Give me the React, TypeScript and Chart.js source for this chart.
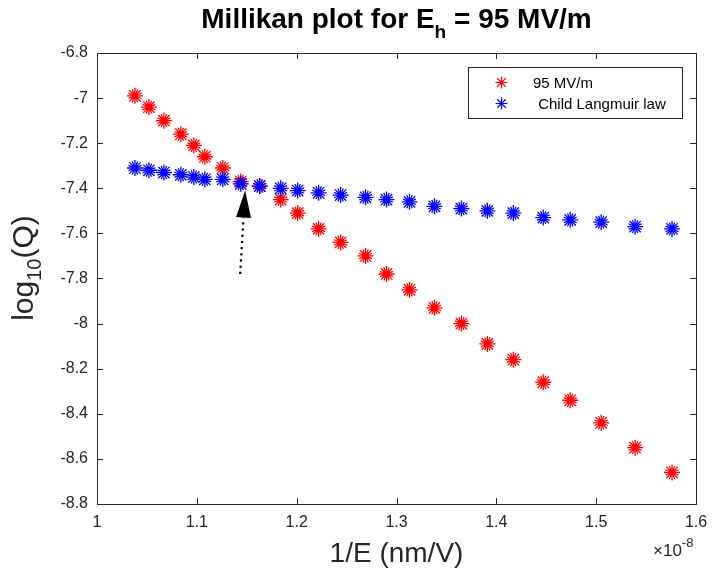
import React, { useEffect, useRef } from "react";
import { Chart, registerables } from "chart.js";

Chart.register(...registerables);

// 1/E values (in units of 1e-8 nm/V)
const inverseField = [1.038, 1.052, 1.067, 1.084, 1.097, 1.108, 1.126, 1.144, 1.163, 1.184, 1.201, 1.222, 1.244, 1.269, 1.29, 1.313, 1.338, 1.365, 1.391, 1.417, 1.447, 1.474, 1.505, 1.539, 1.576];
const logQ95 = [-6.99, -7.04, -7.1, -7.16, -7.21, -7.26, -7.31, -7.37, -7.39, -7.45, -7.51, -7.58, -7.64, -7.7, -7.78, -7.85, -7.93, -8.0, -8.09, -8.16, -8.26, -8.34, -8.44, -8.55, -8.66];
const logQChild = [-7.31, -7.32, -7.33, -7.34, -7.35, -7.36, -7.36, -7.38, -7.39, -7.4, -7.41, -7.42, -7.43, -7.44, -7.45, -7.46, -7.48, -7.49, -7.5, -7.51, -7.53, -7.54, -7.55, -7.57, -7.58];
const seriesNames = ["95 MV/m", " Child Langmuir law"];
const xTickValues = [1, 1.1, 1.2, 1.3, 1.4, 1.5, 1.6];
const yTickValues = [-8.8, -8.6, -8.4, -8.2, -8, -7.8, -7.6, -7.4, -7.2, -7, -6.8];
const arrowFrom = { x: 1.1434, y: -7.78 };
const arrowTo = { x: 1.1484, y: -7.41 };

const FONT = '"Liberation Sans", Arial, Helvetica, sans-serif';
const RED = "#ff0000";
const BLUE = "#0000ff";
const AXIS = "#262626";

function toPoints(ys: number[]) {
  return inverseField.map((x, i) => ({ x, y: ys[i] }));
}

function starLayers(label: string, ys: number[], color: string, order: number) {
  const layers = [
    { style: "star", r: 8, rot: 0, w: 1.3 },
    { style: "star", r: 7, rot: 22.5, w: 1.3 },
    { style: "rect", r: 4.5, rot: 0, w: 0 },
  ];
  return layers.map((l, k) => ({
    label: k === 0 ? label : label + "_" + k,
    data: toPoints(ys),
    showLine: false,
    pointStyle: l.style,
    pointRadius: l.r,
    pointRotation: l.rot,
    pointBorderWidth: l.w,
    borderColor: color,
    backgroundColor: color,
    pointBackgroundColor: color,
    pointBorderColor: color,
    order,
  }));
}

function drawStar(ctx: CanvasRenderingContext2D, x: number, y: number, r: number, color: string) {
  ctx.save();
  ctx.strokeStyle = color;
  ctx.lineWidth = 1.2;
  ctx.beginPath();
  for (let k = 0; k < 4; k++) {
    const a = (k * Math.PI) / 4;
    ctx.moveTo(x - r * Math.cos(a), y - r * Math.sin(a));
    ctx.lineTo(x + r * Math.cos(a), y + r * Math.sin(a));
  }
  ctx.stroke();
  ctx.restore();
}

const decor = {
  id: "matlabDecor",
  afterDatasetsDraw(chart: any) {
    const ctx: CanvasRenderingContext2D = chart.ctx;
    const xs = chart.scales.x;
    const ys = chart.scales.y;
    const x0 = xs.getPixelForValue(arrowFrom.x);
    const y0 = ys.getPixelForValue(arrowFrom.y);
    const x1 = xs.getPixelForValue(arrowTo.x);
    const y1 = ys.getPixelForValue(arrowTo.y);
    const ang = Math.atan2(y1 - y0, x1 - x0);
    const headLen = 27;
    const headHalf = 7.5;
    const bx = x1 - headLen * Math.cos(ang);
    const by = y1 - headLen * Math.sin(ang);
    ctx.save();
    ctx.strokeStyle = "#000";
    ctx.lineWidth = 2.2;
    ctx.setLineDash([2.2, 4]);
    ctx.beginPath();
    ctx.moveTo(x0, y0);
    ctx.lineTo(bx, by);
    ctx.stroke();
    ctx.setLineDash([]);
    ctx.fillStyle = "#000";
    ctx.beginPath();
    ctx.moveTo(x1, y1);
    ctx.lineTo(bx + headHalf * Math.sin(ang), by - headHalf * Math.cos(ang));
    ctx.lineTo(bx - headHalf * Math.sin(ang), by + headHalf * Math.cos(ang));
    ctx.closePath();
    ctx.fill();
    ctx.restore();
  },
  afterDraw(chart: any) {
    const ctx: CanvasRenderingContext2D = chart.ctx;
    const a = chart.chartArea;
    const xs = chart.scales.x;
    const ys = chart.scales.y;
    ctx.save();
    // box
    ctx.strokeStyle = AXIS;
    ctx.lineWidth = 1;
    ctx.strokeRect(Math.round(a.left) + 0.5, Math.round(a.top) + 0.5, Math.round(a.right - a.left), Math.round(a.bottom - a.top));
    // inward ticks
    const tl = 6;
    ctx.beginPath();
    xTickValues.forEach((v) => {
      const px = Math.round(xs.getPixelForValue(v)) + 0.5;
      ctx.moveTo(px, a.bottom);
      ctx.lineTo(px, a.bottom - tl);
      ctx.moveTo(px, a.top);
      ctx.lineTo(px, a.top + tl);
    });
    yTickValues.forEach((v) => {
      const py = Math.round(ys.getPixelForValue(v)) + 0.5;
      ctx.moveTo(a.left, py);
      ctx.lineTo(a.left + tl, py);
      ctx.moveTo(a.right, py);
      ctx.lineTo(a.right - tl, py);
    });
    ctx.stroke();

    // title
    ctx.fillStyle = "#000";
    ctx.textBaseline = "alphabetic";
    ctx.textAlign = "left";
    const tMain = "Millikan plot for E";
    const tSub = "h";
    const tRest = " = 95 MV/m";
    const bigT = "bold 28px " + FONT;
    const smallT = "bold 19px " + FONT;
    ctx.font = bigT;
    const w1 = ctx.measureText(tMain).width;
    const w3 = ctx.measureText(tRest).width;
    ctx.font = smallT;
    const w2 = ctx.measureText(tSub).width;
    const tcx = (a.left + a.right) / 2;
    let tx = tcx - (w1 + w2 + w3) / 2;
    const tBase = 28;
    ctx.font = bigT;
    ctx.fillText(tMain, tx, tBase);
    tx += w1;
    ctx.font = smallT;
    ctx.fillText(tSub, tx, tBase + 10);
    tx += w2;
    ctx.font = bigT;
    ctx.fillText(tRest, tx, tBase);

    // x label
    ctx.fillStyle = AXIS;
    ctx.font = "28px " + FONT;
    ctx.textAlign = "center";
    ctx.fillText("1/E (nm/V)", tcx, 562);

    // exponent
    ctx.textAlign = "left";
    ctx.font = "17px " + FONT;
    const ex = 653;
    ctx.fillText("\u00d710", ex, 556);
    const wEx = ctx.measureText("\u00d710").width;
    ctx.font = "13px " + FONT;
    ctx.fillText("-8", ex + wEx, 547);

    // y label
    ctx.save();
    ctx.translate(33, 268);
    ctx.rotate(-Math.PI / 2);
    const yl1 = "log";
    const yl2 = "10";
    const yl3 = "(Q)";
    const bigY = "30px " + FONT;
    const smallY = "20px " + FONT;
    ctx.font = bigY;
    const u1 = ctx.measureText(yl1).width;
    const u3 = ctx.measureText(yl3).width;
    ctx.font = smallY;
    const u2 = ctx.measureText(yl2).width;
    let ux = -(u1 + u2 + u3) / 2;
    ctx.font = bigY;
    ctx.fillText(yl1, ux, 0);
    ux += u1;
    ctx.font = smallY;
    ctx.fillText(yl2, ux, 8);
    ux += u2;
    ctx.font = bigY;
    ctx.fillText(yl3, ux, 0);
    ctx.restore();

    // legend
    const lx = 468.5, ly = 67.5, lw = 214, lh = 51;
    ctx.fillStyle = "#fff";
    ctx.fillRect(lx, ly, lw, lh);
    ctx.strokeStyle = AXIS;
    ctx.lineWidth = 1;
    ctx.strokeRect(lx, ly, lw, lh);
    drawStar(ctx, 501.5, 82.5, 6, RED);
    drawStar(ctx, 501.5, 103.5, 6, BLUE);
    ctx.fillStyle = "#000";
    ctx.font = "15px " + FONT;
    ctx.textAlign = "left";
    ctx.fillText(seriesNames[0], 533, 88);
    ctx.fillText(seriesNames[1], 534, 109);
    ctx.restore();
  },
};

export default function App() {
  const ref = useRef<HTMLCanvasElement | null>(null);
  useEffect(() => {
    document.body.style.margin = "0";
    const canvas = ref.current!;
    const chart = new Chart(canvas, {
      type: "scatter",
      data: {
        datasets: [
          ...starLayers(seriesNames[0], logQ95, RED, 2),
          ...starLayers(seriesNames[1], logQChild, BLUE, 1),
        ],
      } as any,
      options: {
        animation: false,
        responsive: false,
        devicePixelRatio: 1,
        layout: { padding: { top: 53, right: 16, bottom: 0, left: 0 } },
        plugins: { legend: { display: false }, tooltip: { enabled: false }, title: { display: false } },
        scales: {
          x: {
            type: "linear",
            min: 1,
            max: 1.6,
            afterBuildTicks: (s: any) => {
              s.ticks = xTickValues.map((v) => ({ value: v }));
            },
            afterFit: (s: any) => {
              s.height = 72;
              s.paddingLeft = 0;
              s.paddingRight = 0;
            },
            grid: { display: false, drawTicks: false },
            border: { display: false },
            ticks: {
              padding: 9,
              color: AXIS,
              font: { family: FONT, size: 16 },
              maxRotation: 0,
              autoSkip: false,
              callback: (v: any) => String(+Number(v).toFixed(1)),
            },
          },
          y: {
            type: "linear",
            min: -8.8,
            max: -6.8,
            afterBuildTicks: (s: any) => {
              s.ticks = yTickValues.map((v) => ({ value: v }));
            },
            afterFit: (s: any) => {
              s.width = 97;
              s.paddingTop = 0;
              s.paddingBottom = 0;
            },
            grid: { display: false, drawTicks: false },
            border: { display: false },
            ticks: {
              padding: 9,
              color: AXIS,
              font: { family: FONT, size: 16 },
              autoSkip: false,
              callback: (v: any) => String(+Number(v).toFixed(1)),
            },
          },
        },
      },
      plugins: [decor],
    } as any);
    return () => chart.destroy();
  }, []);
  return (
    <div style={{ width: 712, height: 576, background: "#fff" }}>
      <canvas ref={ref} width={712} height={576} style={{ display: "block" }} />
    </div>
  );
}
